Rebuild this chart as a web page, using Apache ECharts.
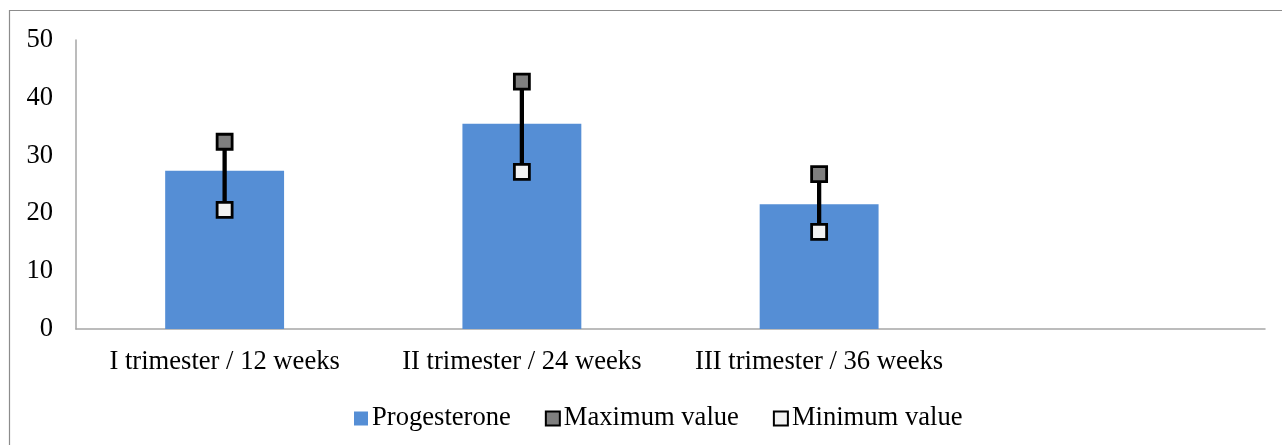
<!DOCTYPE html>
<html>
<head>
<meta charset="utf-8">
<style>
  html, body { margin: 0; padding: 0; background: #fff; }
  #chart { width: 1282px; height: 445px; }
</style>
<script src="https://cdn.jsdelivr.net/npm/echarts@6/dist/echarts.min.js"></script>
</head>
<body>
<div id="chart"></div>
<script>
const categories = ['I trimester / 12 weeks', 'II trimester / 24 weeks', 'III trimester / 36 weeks', ''];
const progesterone = [27.4, 35.5, 21.6, null];
const maximumValue = [32.4, 42.8, 26.8, null];
const minimumValue = [20.6, 27.2, 16.8, null];
const yTicks = { min: 0, max: 50, interval: 10 };

const FONT = 'Liberation Serif, Times New Roman, serif';
const FS = 26.6;
const chart = echarts.init(document.getElementById('chart'), null, { renderer: 'canvas' });

const errData = categories.map((c, i) => [i, minimumValue[i], maximumValue[i]]).filter(d => d[1] != null);

chart.setOption({
  animation: false,
  backgroundColor: '#ffffff',
  graphic: [{
    type: 'rect',
    shape: { x: 9.5, y: 10.5, width: 1400, height: 600 },
    style: { fill: 'none', stroke: '#8c8c8c', lineWidth: 1.2 },
    silent: true
  }],
  grid: { left: 76, right: 17, top: 40, bottom: 116, containLabel: false },
  legend: {
    left: 349,
    top: 400,
    itemGap: 34,
    itemWidth: 14,
    itemHeight: 14,
    textStyle: { fontFamily: FONT, fontSize: FS, color: '#000', padding: [0, 0, 0, -1] },
    data: [
      { name: 'Progesterone', icon: 'rect' },
      { name: 'Maximum value', icon: 'rect' },
      { name: 'Minimum value', icon: 'rect' }
    ]
  },
  xAxis: {
    type: 'category',
    data: categories,
    axisLine: { show: true, lineStyle: { color: '#a6a6a6', width: 1.5 } },
    axisTick: { show: false },
    axisLabel: { fontFamily: FONT, fontSize: FS, color: '#000', margin: 20, interval: 0 },
    splitLine: { show: false }
  },
  yAxis: {
    type: 'value',
    min: yTicks.min,
    max: yTicks.max,
    interval: yTicks.interval,
    axisLine: { show: true, lineStyle: { color: '#a6a6a6', width: 1.5 } },
    axisTick: { show: false },
    splitLine: { show: false },
    axisLabel: { fontFamily: FONT, fontSize: FS, color: '#000', margin: 23 }
  },
  series: [
    {
      name: 'Progesterone',
      type: 'bar',
      data: progesterone,
      barWidth: '40%',
      itemStyle: { color: '#558ed5' },
      z: 1
    },
    {
      name: 'errorLine',
      type: 'custom',
      data: errData,
      z: 3,
      renderItem: function (params, api) {
        const x = api.value(0);
        const p1 = api.coord([x, api.value(1)]);
        const p2 = api.coord([x, api.value(2)]);
        return {
          type: 'line',
          shape: { x1: p1[0], y1: p1[1], x2: p2[0], y2: p2[1] },
          style: { stroke: '#000', lineWidth: 4.3 }
        };
      },
      encode: { x: 0, y: [1, 2] },
      silent: true
    },
    {
      name: 'Maximum value',
      type: 'scatter',
      data: maximumValue,
      symbol: 'rect',
      symbolSize: 15,
      itemStyle: { color: '#7f7f7f', borderColor: '#000', borderWidth: 2.8, opacity: 1 },
      z: 5
    },
    {
      name: 'Minimum value',
      type: 'scatter',
      data: minimumValue,
      symbol: 'rect',
      symbolSize: 15,
      itemStyle: { color: '#f2f2f2', borderColor: '#000', borderWidth: 2.8, opacity: 1 },
      z: 5
    }
  ]
});
</script>
</body>
</html>
